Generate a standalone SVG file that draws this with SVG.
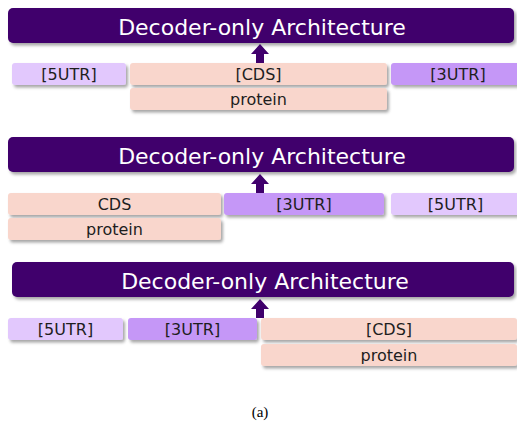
<svg xmlns="http://www.w3.org/2000/svg" width="517" height="421" viewBox="0 0 517 421">
  <defs>
    <filter id="shadow" x="-10%" y="-30%" width="120%" height="180%">
      <feDropShadow dx="2" dy="2.5" stdDeviation="1.6" flood-color="#000" flood-opacity="0.35"/>
    </filter>
  </defs>
  <style>
    .arch { fill: #40006c; filter: url(#shadow); }
    .utr5 { fill: #e2c8fd; filter: url(#shadow); }
    .utr3 { fill: #c597f7; filter: url(#shadow); }
    .cds { fill: #f9d6cc; filter: url(#shadow); }
    .title { font-family: "DejaVu Sans", Verdana, sans-serif; font-size: 22px; fill: #ffffff; text-anchor: middle; }
    .lbl { font-family: "DejaVu Sans", Verdana, sans-serif; font-size: 16px; fill: #1e1e1e; text-anchor: middle; }
    .cap { font-family: "Liberation Serif", "Times New Roman", serif; font-size: 15px; fill: #000; text-anchor: middle; }
    .arrow { fill: #40006c; }
  </style>

  <!-- Layout 1: 5UTR | CDS/protein | 3UTR -->
  <g id="arch1">
    <rect class="arch" x="8" y="8" width="506" height="35" rx="5"/>
    <text class="title" x="262" y="35">Decoder-only Architecture</text>
  </g>
  <g id="utr5-1">
    <rect class="utr5" x="12" y="63" width="114" height="22" rx="3"/>
    <text class="lbl" x="69" y="80">[5UTR]</text>
  </g>
  <g id="cds-1">
    <rect class="cds" x="130" y="63" width="257" height="22" rx="3"/>
    <text class="lbl" x="258.5" y="80">[CDS]</text>
  </g>
  <g id="protein-1">
    <rect class="cds" x="130" y="88" width="257" height="22" rx="3"/>
    <text class="lbl" x="258.5" y="105">protein</text>
  </g>
  <g id="utr3-1">
    <rect class="utr3" x="391" y="63" width="134" height="22" rx="3"/>
    <text class="lbl" x="458" y="80">[3UTR]</text>
  </g>

  <!-- Layout 2: CDS/protein | 3UTR | 5UTR -->
  <g id="arch2">
    <rect class="arch" x="8" y="137" width="506" height="35" rx="5"/>
    <text class="title" x="262" y="164">Decoder-only Architecture</text>
  </g>
  <g id="cds-2">
    <rect class="cds" x="8" y="193" width="213" height="22" rx="3"/>
    <text class="lbl" x="114.5" y="210">CDS</text>
  </g>
  <g id="protein-2">
    <rect class="cds" x="8" y="218" width="213" height="22" rx="3"/>
    <text class="lbl" x="114.5" y="235">protein</text>
  </g>
  <g id="utr3-2">
    <rect class="utr3" x="224" y="193" width="160" height="22" rx="3"/>
    <text class="lbl" x="304" y="210">[3UTR]</text>
  </g>
  <g id="utr5-2">
    <rect class="utr5" x="391" y="193" width="129" height="22" rx="3"/>
    <text class="lbl" x="455.5" y="210">[5UTR]</text>
  </g>

  <!-- Layout 3: 5UTR | 3UTR | CDS/protein -->
  <g id="arch3">
    <rect class="arch" x="12" y="262" width="502" height="35" rx="5"/>
    <text class="title" x="265" y="289">Decoder-only Architecture</text>
  </g>
  <g id="utr5-3">
    <rect class="utr5" x="8" y="318" width="115" height="22" rx="3"/>
    <text class="lbl" x="65.5" y="335">[5UTR]</text>
  </g>
  <g id="utr3-3">
    <rect class="utr3" x="128" y="318" width="129" height="22" rx="3"/>
    <text class="lbl" x="192.5" y="335">[3UTR]</text>
  </g>
  <g id="cds-3">
    <rect class="cds" x="261" y="318" width="256" height="22" rx="3"/>
    <text class="lbl" x="389" y="335">[CDS]</text>
  </g>
  <g id="protein-3">
    <rect class="cds" x="261" y="344" width="256" height="22" rx="3"/>
    <text class="lbl" x="389" y="361">protein</text>
  </g>

  <!-- Upward arrows feeding each architecture block -->
  <g id="connectors">
    <polygon class="arrow" points="260,44 269,54 264,54 264,63 256,63 256,54 251,54"/>
    <polygon class="arrow" points="260,174 269,184 264,184 264,193 256,193 256,184 251,184"/>
    <polygon class="arrow" points="260,299 269,309 264,309 264,318 256,318 256,309 251,309"/>
  </g>

  <text class="cap" x="260" y="417">(a)</text>
</svg>
